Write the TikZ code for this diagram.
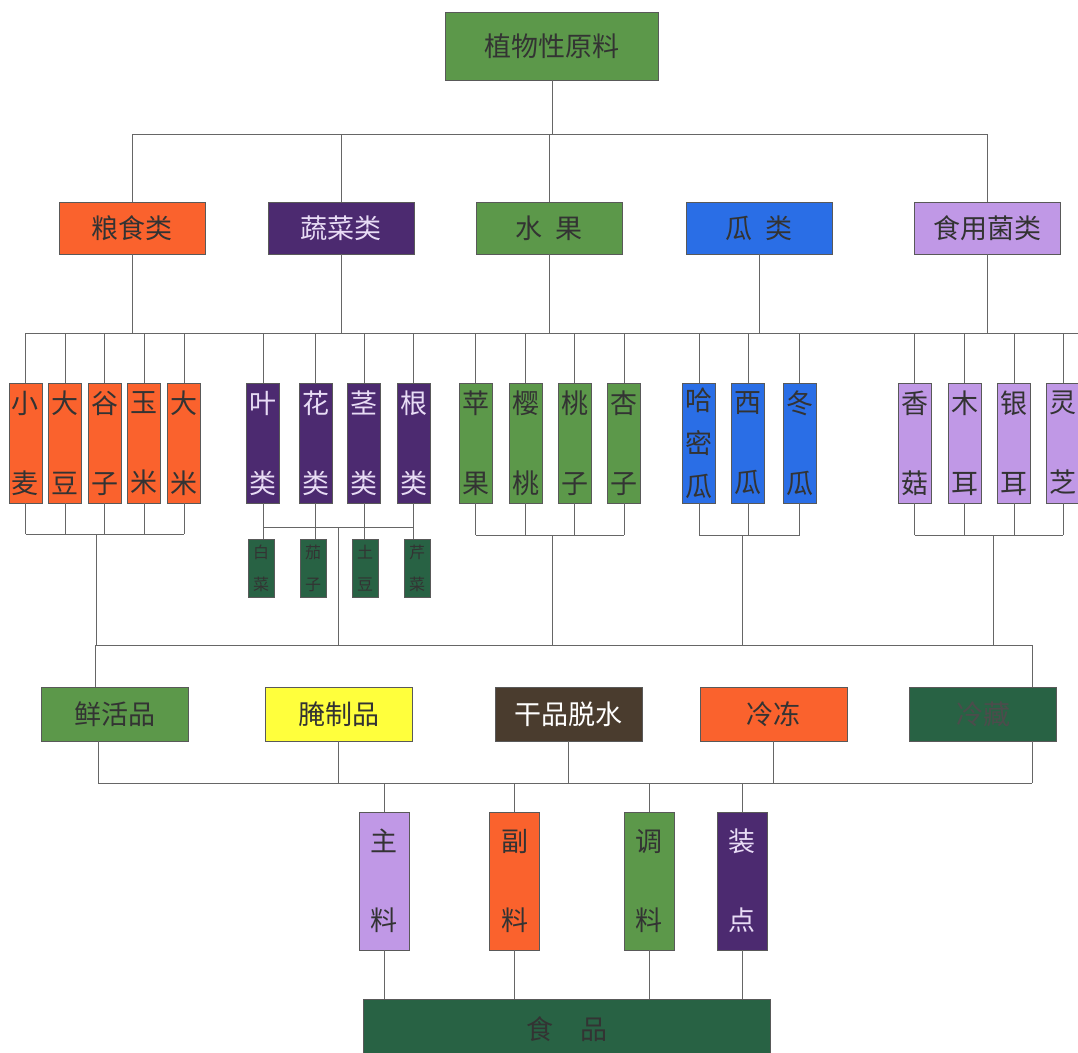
\documentclass[tikz,border=0pt]{standalone}
\usepackage{fontspec}
\setmainfont{Noto Sans CJK SC}
\usepackage{tikz}

\definecolor{cGreen}{RGB}{92,152,74}
\definecolor{cOrange}{RGB}{250,98,45}
\definecolor{cPurple}{RGB}{76,42,112}
\definecolor{cBlue}{RGB}{42,110,230}
\definecolor{cLilac}{RGB}{192,152,230}
\definecolor{cDeep}{RGB}{40,98,68}
\definecolor{cYellow}{RGB}{255,255,60}
\definecolor{cBrown}{RGB}{74,60,46}
\definecolor{cPale}{RGB}{232,220,245}

\begin{document}
\begin{tikzpicture}[x=1pt, y=-1pt,
        box/.style={draw=black!65, line width=0.8pt, inner sep=0pt, align=center, text=black!80},
        cat/.style={box, minimum width=146pt, minimum height=52pt, font=\fontsize{27}{30}\selectfont},
        item/.style={box, minimum width=33pt, minimum height=120pt, font=\fontsize{27}{30}\selectfont},
        sub/.style={box, fill=cDeep, minimum width=26pt, minimum height=58pt, font=\fontsize{16}{18}\selectfont},
        part/.style={box, minimum width=50pt, minimum height=138pt, font=\fontsize{27}{30}\selectfont},
        link/.style={draw=black!60, line width=1pt}
        ]
        \useasboundingbox (0,0) rectangle (1078,1052);

        % root and main groups
        \node[box, fill=cGreen, minimum width=213pt, minimum height=68pt, font=\fontsize{27}{30}\selectfont] (root) at (552,46) {植物性原料};
        \node[cat, fill=cOrange] (grain) at (132,228) {粮食类};
        \node[cat, fill=cPurple, text=cPale] (veg) at (341,228) {蔬菜类};
        \node[cat, fill=cGreen] (fruit) at (549,228) {水\hspace{0.5em}果};
        \node[cat, fill=cBlue] (melon) at (759,228) {瓜\hspace{0.5em}类};
        \node[cat, fill=cLilac] (fungi) at (987,228) {食用菌类};

        \coordinate (busA) at (0,134);
        \coordinate (busB) at (1078,333);
        \draw[link] (root.south) -- (root.south |- busA);
        \draw[link] (grain.north |- busA) -- (fungi.north |- busA);
        \foreach \n in {grain,veg,fruit,fungi}
            \draw[link] (\n.north) -- (\n.north |- busA);

        % single kinds
        \foreach \x/\a/\b [count=\i] in {25.5/小/麦, 65/大/豆, 104.5/谷/子, 144/玉/米, 184/大/米}
            \node[item, fill=cOrange] (g\i) at (\x,443) {\a\\[50pt]\b};
        \foreach \x/\a/\b [count=\i] in {263/叶/类, 315.5/花/类, 364/茎/类, 413.5/根/类}
            \node[item, fill=cPurple, text=cPale] (v\i) at (\x,443) {\a\\[50pt]\b};
        \foreach \x/\a/\b [count=\i] in {475.5/苹/果, 525.5/樱/桃, 574.5/桃/子, 624/杏/子}
            \node[item, fill=cGreen] (f\i) at (\x,443) {\a\\[50pt]\b};
        \node[item, fill=cBlue] (m1) at (699,443) {哈\\[13pt]密\\[13pt]瓜};
        \node[item, fill=cBlue] (m2) at (748,443) {西\\[50pt]瓜};
        \node[item, fill=cBlue] (m3) at (799.5,443) {冬\\[50pt]瓜};
        \foreach \x/\a/\b [count=\i] in {914.5/香/菇, 964.5/木/耳, 1014/银/耳, 1063/灵/芝}
            \node[item, fill=cLilac] (u\i) at (\x,443) {\a\\[50pt]\b};
        \foreach \x/\a/\b [count=\i] in {261/白/菜, 313/茄/子, 365/土/豆, 417/芹/菜}
            \node[sub] (s\i) at (\x,568) {\a\\[14pt]\b};

        \draw[link] (g1.north |- busB) -- (busB);
        \foreach \n in {grain,veg,fruit,melon,fungi}
            \draw[link] (\n.south) -- (\n.south |- busB);
        \foreach \n in {g1,g2,g3,g4,g5,v1,v2,v3,v4,f1,f2,f3,f4,m1,m2,m3,u1,u2,u3,u4}
            \draw[link] (\n.north) -- (\n.north |- busB);

        % group hubs
        \coordinate (hubG) at (96,534);
        \coordinate (hubV) at (338,527);
        \coordinate (hubF) at (552,535);
        \coordinate (hubM) at (742,535);
        \coordinate (hubU) at (993,535);
        \foreach \n in {g1,g2,g3,g4,g5}
            \draw[link] (\n.south) -- (\n.south |- hubG);
        \draw[link] (g1.south |- hubG) -- (g5.south |- hubG);
        \foreach \n/\s in {v1/s1,v2/s2,v3/s3,v4/s4}
            \draw[link] (\n.south) -- (\n.south |- \s.north);
        \draw[link] (v1.south |- hubV) -- (v4.south |- hubV);
        \foreach \n in {f1,f2,f3,f4}
            \draw[link] (\n.south) -- (\n.south |- hubF);
        \draw[link] (f1.south |- hubF) -- (f4.south |- hubF);
        \foreach \n in {m1,m2,m3}
            \draw[link] (\n.south) -- (\n.south |- hubM);
        \draw[link] (m1.south |- hubM) -- (m3.south |- hubM);
        \foreach \n in {u1,u2,u3,u4}
            \draw[link] (\n.south) -- (\n.south |- hubU);
        \draw[link] (u1.south |- hubU) -- (u4.south |- hubU);

        % storage
        \node[cat, fill=cGreen, minimum width=147pt, minimum height=54pt] (fresh) at (114.5,714) {鲜活品};
        \node[cat, fill=cYellow, minimum width=147pt, minimum height=54pt] (pickled) at (338.5,714) {腌制品};
        \node[cat, fill=cBrown, text=white, minimum width=147pt, minimum height=54pt] (dried) at (568.5,714) {干品脱水};
        \node[cat, fill=cOrange, minimum width=147pt, minimum height=54pt] (frozen) at (773.5,714) {冷冻};
        \node[cat, fill=cDeep, text=black!70, minimum width=147pt, minimum height=54pt] (cold) at (983,714) {冷藏};

        \coordinate (busCL) at (95,645);
        \coordinate (busCR) at (1032,645);
        \draw[link] (busCL) -- (busCR);
        \foreach \h in {hubG,hubV,hubF,hubM,hubU}
            \draw[link] (\h) -- (\h |- busCL);
        \draw[link] (busCL) -- (busCL |- fresh.north);
        \draw[link] (busCR) -- (busCR |- cold.north);

        \coordinate (busDL) at (98,783);
        \coordinate (busDR) at (1032,783);
        \draw[link] (busDL) -- (busDR);
        \draw[link] (busDL |- fresh.south) -- (busDL);
        \draw[link] (busDR |- cold.south) -- (busDR);
        \foreach \n in {pickled,dried,frozen}
            \draw[link] (\n.south) -- (\n.south |- busDL);

        % ingredients and food
        \node[part, fill=cLilac] (main) at (384,881) {主\\[49pt]料};
        \node[part, fill=cOrange] (side) at (514.5,881) {副\\[49pt]料};
        \node[part, fill=cGreen] (season) at (649,881) {调\\[49pt]料};
        \node[part, fill=cPurple, text=cPale] (garnish) at (742,881) {装\\[49pt]点};
        \node[box, fill=cDeep, minimum width=407pt, minimum height=61pt, font=\fontsize{27}{30}\selectfont] (food) at (566.5,1029.5) {食\hspace{1em}品};

        \foreach \n in {main,side,season,garnish} {
            \draw[link] (\n.north |- busDL) -- (\n.north);
            \draw[link] (\n.south) -- (\n.south |- food.north);
        }
    \end{tikzpicture}
\end{document}
